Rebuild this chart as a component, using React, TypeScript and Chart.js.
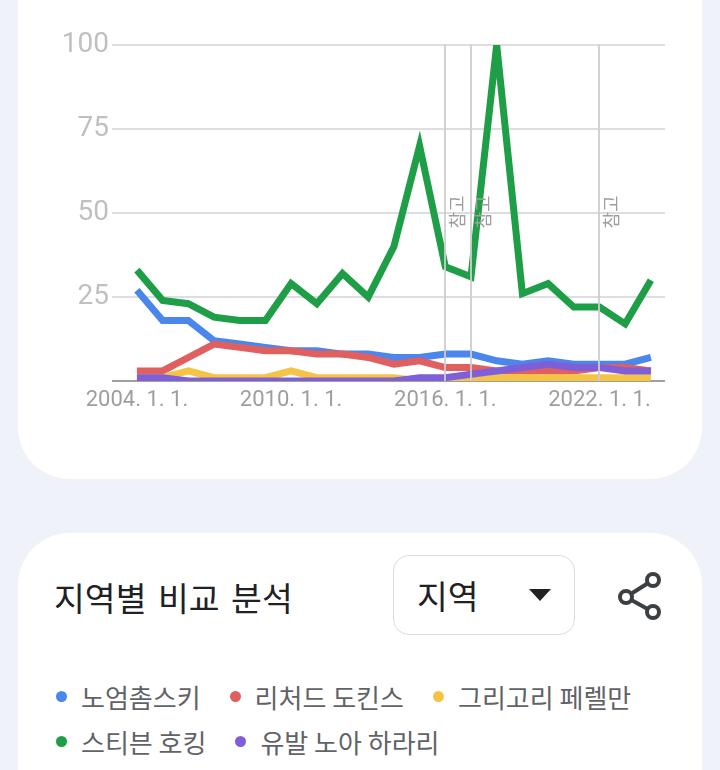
import React, { useEffect, useRef } from "react";
import { Chart, registerables } from "chart.js";

Chart.register(...registerables);

const years = [2004, 2005, 2006, 2007, 2008, 2009, 2010, 2011, 2012, 2013, 2014, 2015, 2016, 2017, 2018, 2019, 2020, 2021, 2022, 2023, 2024];
const xTickYears = [2004, 2010, 2016, 2022];
const yTicks = [0, 25, 50, 75, 100];
const noteYears = [2016, 2017, 2022];
const noteLabel = "참고";

const seriesNames = ["노엄촘스키", "리처드 도킨스", "그리고리 페렐만", "스티븐 호킹", "유발 노아 하라리"];
const seriesColors = ["#4a86ec", "#e05f5f", "#f6c445", "#1f9e48", "#7e5fd8"];

const chomsky = [27, 18, 18, 12, 11, 10, 9, 9, 8, 8, 7, 7, 8, 8, 6, 5, 6, 5, 5, 5, 7];
const dawkins = [3, 3, 7, 11, 10, 9, 9, 8, 8, 7, 5, 6, 4, 4, 3, 3, 3, 3, 4, 4, 3];
const perelman = [1, 1, 3, 1, 1, 1, 3, 1, 1, 1, 1, 0, 0, 0, 1, 1, 1, 1, 1, 1, 1];
const hawking = [33, 24, 23, 19, 18, 18, 29, 23, 32, 25, 40, 70, 34, 31, 100, 26, 29, 22, 22, 17, 30];
const harari = [1, 1, 0, 0, 0, 0, 0, 0, 0, 0, 0, 1, 1, 2, 3, 4, 5, 4, 4, 3, 3];

const seriesValues = [chomsky, dawkins, perelman, hawking, harari];
const drawOrder = [5, 4, 3, 2, 1];

const notesPlugin = {
  id: "notes",
  afterDatasetsDraw(chart: any) {
    const { ctx, chartArea, scales } = chart;
    ctx.save();
    noteYears.forEach((yr) => {
      const x = Math.round(scales.x.getPixelForValue(yr));
      ctx.strokeStyle = "rgba(205,205,205,0.9)";
      ctx.lineWidth = 2;
      ctx.beginPath();
      ctx.moveTo(x, chartArea.top);
      ctx.lineTo(x, chartArea.bottom);
      ctx.stroke();
      ctx.save();
      ctx.translate(x + 12, scales.y.getPixelForValue(50) - 1);
      ctx.rotate(-Math.PI / 2);
      ctx.fillStyle = "#9e9e9e";
      ctx.font = "18px 'Noto Sans CJK KR'";
      ctx.textAlign = "center";
      ctx.textBaseline = "middle";
      ctx.fillText(noteLabel, 0, 0);
      ctx.restore();
    });
    ctx.restore();
  },
};

function TrendChart() {
  const ref = useRef<HTMLCanvasElement | null>(null);
  useEffect(() => {
    if (!ref.current) return;
    const chart = new Chart(ref.current, {
      type: "line",
      data: {
        datasets: seriesNames.map((name, i) => ({
          label: name,
          data: years.map((y, j) => ({ x: y, y: seriesValues[i][j] })),
          borderColor: seriesColors[i],
          backgroundColor: seriesColors[i],
          borderWidth: 7,
          pointRadius: 0,
          tension: 0,
          order: drawOrder[i],
        })),
      },
      options: {
        animation: false,
        responsive: false,
        layout: { padding: { left: 0, right: 55, top: 45, bottom: 58 } },
        plugins: { legend: { display: false }, tooltip: { enabled: false } },
        scales: {
          x: {
            type: "linear",
            min: 2003.03,
            max: 2024.55,
            afterBuildTicks: (scale: any) => {
              scale.ticks = xTickYears.map((v) => ({ value: v }));
            },
            afterFit: (scale: any) => {
              scale.height = 40;
            },
            grid: { display: false, drawTicks: false },
            border: { display: false },
            ticks: {
              callback: (v: any) => `${v}. 1. 1.`,
              color: "#9e9e9e",
              font: { family: "Roboto", size: 22 },
              padding: 6,
              maxRotation: 0,
              autoSkip: false,
            },
          },
          y: {
            min: 0,
            max: 100,
            afterBuildTicks: (scale: any) => {
              scale.ticks = yTicks.map((v) => ({ value: v }));
            },
            afterFit: (scale: any) => {
              scale.width = 112;
            },
            grid: {
              drawTicks: false,
              lineWidth: 2,
              color: (c: any) => (c.tick && c.tick.value === 0 ? "#a0a0a0" : "#dedede"),
            },
            border: { display: false },
            ticks: {
              color: "#c0c0c0",
              font: { family: "Roboto", size: 28 },
              padding: 3,
              callback: (v: any) => (v === 0 ? "" : `${v}`),
            },
          },
        },
      },
      plugins: [notesPlugin],
    });
    return () => chart.destroy();
  }, []);
  return <canvas ref={ref} width={720} height={479} style={{ position: "absolute", left: 0, top: 0 }} />;
}

export default function App() {
  const kr = "'Noto Sans CJK KR', 'Noto Sans', sans-serif";
  return (
    <div style={{ position: "absolute", left: 0, top: 0, width: 720, height: 770, background: "#eff2f8", overflow: "hidden", fontFamily: kr }}>
      <div style={{ position: "absolute", left: 18, top: -60, width: 684, height: 539, background: "#fff", borderRadius: 52 }} />
      <TrendChart />
      <div style={{ position: "absolute", left: 18, top: 533, width: 684, height: 300, background: "#fff", borderRadius: 52 }} />
      <div style={{ position: "absolute", left: 54, top: 573, fontSize: 33.5, lineHeight: "48px", color: "#202124", wordSpacing: 4, whiteSpace: "nowrap" }}>
        지역별 비교 분석
      </div>
      <div style={{ position: "absolute", left: 393, top: 555, width: 182, height: 80, boxSizing: "border-box", border: "1.5px solid #dadce0", borderRadius: 16 }}>
        <div style={{ position: "absolute", left: 23, top: 15, fontSize: 33.5, lineHeight: "48px", color: "#202124" }}>지역</div>
        <svg style={{ position: "absolute", left: 134, top: 32 }} width={24} height={14} viewBox="0 0 24 14">
          <polygon points="1,1 23,1 12,13" fill="#202124" />
        </svg>
      </div>
      <svg style={{ position: "absolute", left: 612, top: 566 }} width={52} height={60} viewBox="0 0 52 60">
        <g stroke="#3c4043" strokeWidth={4} fill="none">
          <line x1={14} y1={31} x2={41} y2={14} />
          <line x1={14} y1={31} x2={41} y2={46} />
          <circle cx={41} cy={14} r={6} fill="#fff" />
          <circle cx={14} cy={31} r={6} fill="#fff" />
          <circle cx={41} cy={46} r={6} fill="#fff" />
        </g>
      </svg>
      <div style={{ position: "absolute", left: 56, top: 674, width: 646, display: "flex", flexWrap: "wrap", fontSize: 26, lineHeight: "45px", color: "#5f6368" }}>
        {seriesNames.map((name, i) => (
          <div key={name} style={{ display: "flex", alignItems: "center", marginRight: 29, whiteSpace: "nowrap" }}>
            <span style={{ display: "inline-block", width: 11, height: 11, borderRadius: "50%", background: seriesColors[i], marginRight: 14 }} />
            <span>{name}</span>
          </div>
        ))}
      </div>
    </div>
  );
}
